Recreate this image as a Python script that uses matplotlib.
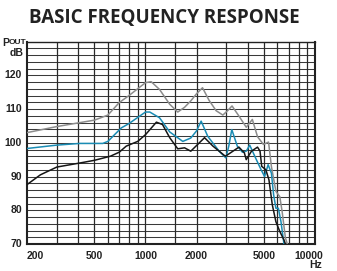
import numpy as np
import matplotlib.pyplot as plt

# 讀圖估計的數據 (Hz, dB)
gray_f = [200, 300, 500, 600, 700, 800, 1000, 1080, 1210, 1390, 1550, 1700, 1850, 2000,
          2170, 2370, 2610, 2860, 3050, 3240, 3560, 3930, 4270, 4580, 4960, 5320, 5530,
          5880, 6200, 6400, 6690, 6870]
gray_db = [103.0, 104.8, 106.7, 108.2, 111.9, 114.0, 117.8, 118.1, 115.8, 111.4, 109.1,
           110.5, 112.4, 114.5, 116.3, 112.6, 109.5, 108.2, 109.5, 110.9, 107.9, 104.6,
           106.9, 101.8, 99.5, 100.2, 93.0, 85.6, 84.0, 79.6, 71.8, 70.0]

blue_f = [200, 300, 410, 560, 600, 720, 800, 900, 1000, 1060, 1210, 1390, 1660, 1850,
          2000, 2130, 2330, 2720, 2980, 3100, 3230, 3480, 3730, 3930, 4120, 4460, 4810,
          5040, 5290, 5530, 5700, 5880, 6080, 6300, 6560]
blue_db = [98.3, 99.3, 99.8, 99.8, 100.4, 104.4, 105.7, 107.5, 109.1, 109.1, 107.4,
           103.2, 100.4, 101.4, 103.5, 106.4, 101.9, 97.5, 95.5, 99.0, 103.9, 99.0, 97.2,
           97.5, 99.3, 95.5, 92.0, 90.0, 93.5, 91.0, 84.6, 80.6, 80.6, 76.6, 70.0]

black_f = [200, 240, 300, 410, 500, 620, 700, 770, 900, 1000, 1160, 1260, 1390, 1550,
           1700, 1850, 2230, 2500, 2960, 3560, 3830, 3930, 4220, 4580, 4740, 4850, 5130,
           5350, 5600, 5880, 6200, 6560, 6690]
black_db = [87.6, 90.5, 92.8, 94.0, 94.8, 96.0, 97.2, 99.0, 100.4, 102.4, 106.1, 105.4,
            101.5, 98.2, 98.5, 97.5, 101.5, 99.0, 96.0, 98.7, 97.0, 95.0, 97.5, 98.7, 97.5,
            93.0, 92.0, 89.0, 81.6, 76.6, 73.7, 71.2, 70.0]

x_ticks = [200, 500, 1000, 2000, 5000, 10000]
y_ticks = [70, 80, 90, 100, 110, 120]
v_grid = [300, 400, 500, 600, 700, 800, 900, 1000, 1500, 2000, 3000, 4000, 5000,
          6000, 7000, 8000, 9000]

fig = plt.figure(figsize=(3.37, 2.71), dpi=100)
ax = fig.add_axes([27 / 337, 27 / 271, 288 / 337, 202.5 / 271])
ax.set_xscale('log')
ax.set_xlim(200, 10000)
ax.set_ylim(70, 130)

# 格線
for yv in np.arange(72, 130, 2):
    ax.axhline(yv, color='#3a3a3a', lw=0.75, zorder=1)
for xv in v_grid:
    ax.axvline(xv, color='#2a2a2a', lw=0.9, zorder=1)

ax.plot(gray_f, gray_db, color='#8c8c8c', lw=1.1, zorder=3)
ax.plot(blue_f, blue_db, color='#1a8cb4', lw=1.1, zorder=4)
ax.plot(black_f, black_db, color='#151515', lw=1.1, zorder=5)

for s in ax.spines.values():
    s.set_color('#222222')
ax.spines['left'].set_linewidth(1.5)
ax.spines['right'].set_linewidth(1.5)
ax.spines['bottom'].set_linewidth(1.5)
ax.spines['top'].set_linewidth(1.0)

ax.set_xticks([])
ax.set_yticks([])
ax.minorticks_off()

lab = dict(fontsize=7.5, fontweight='bold', family='Liberation Sans', color='#222222')
for yv in y_ticks:
    ax.text(-0.017, (yv - 70) / 60, str(yv), transform=ax.transAxes,
            ha='right', va='center', **lab)
for i, xv in enumerate(x_ticks):
    ha = 'center'
    xx = xv
    if i == 0:
        ha = 'left'
    if i == len(x_ticks) - 1:
        ha = 'right'
        xx = xv * 1.12
    ax.text(xx, -0.035, str(xv), transform=ax.get_xaxis_transform(),
            ha=ha, va='top', **lab)
ax.text(10000 * 1.1, -0.08, 'Hz', transform=ax.get_xaxis_transform(),
        ha='right', va='top', **lab)

fig.text(2 / 337, 1 - 42.5 / 271, 'P', ha='left', va='center', **lab)
fig.text(9 / 337, 1 - 43 / 271, 'OUT', ha='left', va='center',
         fontsize=6, fontweight='bold', family='Liberation Sans', color='#222222')
fig.text(24 / 337, 1 - 53 / 271, 'dB', ha='right', va='center', **lab)

fig.text(164 / 337, 1 - 18.5 / 271, 'BASIC FREQUENCY RESPONSE', ha='center', va='center',
         fontsize=13.5, fontweight='bold', family='Open Sans', color='#222222')

plt.savefig('out.png', dpi=100)
